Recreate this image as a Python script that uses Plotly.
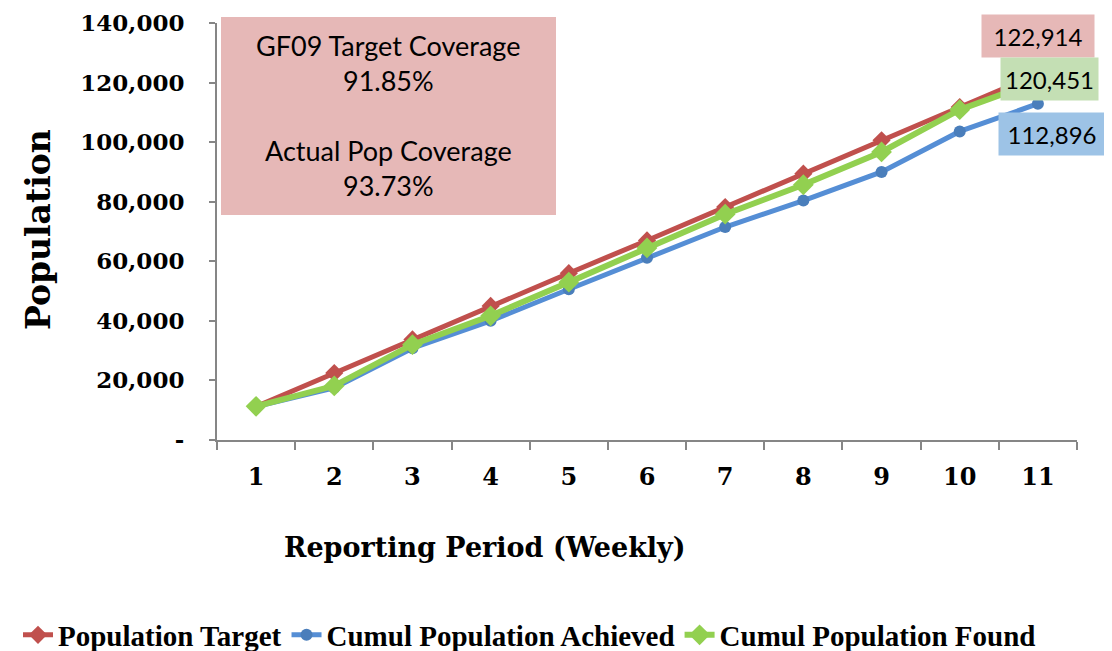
import plotly.graph_objects as go

# weekly reporting periods
weeks = ['1', '2', '3', '4', '5', '6', '7', '8', '9', '10', '11']

pop_target = [11250, 22500, 33750, 45000, 56000, 67000, 78200, 89400, 100600, 111800, 122914]
pop_achieved = [11200, 17500, 30800, 40000, 50600, 61200, 71500, 80400, 90000, 103600, 112896]
pop_found = [11300, 18200, 32000, 41700, 53000, 64500, 75800, 85700, 96700, 110900, 120451]

y_ticks = [0, 20000, 40000, 60000, 80000, 100000, 120000, 140000]
y_labels = ['-', '20,000', '40,000', '60,000', '80,000', '100,000', '120,000', '140,000']

box_lines = ['GF09 Target Coverage', '91.85%', 'Actual Pop Coverage', '93.73%']

red = '#C0504D'
blue_line = '#558ED5'
blue_mark = '#4A7EBB'
green = '#92D050'
serif = 'DejaVu Serif'

# page body has an 8px margin, so the figure is 8px smaller than the window
W, H = 1104, 643
L, T = 209, 15         # plot area left / top in figure pixels
PW, PH = 860, 417      # plot area size


def px(xp):  # window x pixel -> paper x
    return (xp - 8 - L) / PW


def py(yp):  # window y pixel -> paper y
    return (T + PH - (yp - 8)) / PH


fig = go.Figure()
fig.add_trace(go.Scatter(x=weeks, y=pop_target, name='Population Target', mode='lines+markers',
                         line=dict(color=red, width=5),
                         marker=dict(symbol='diamond', size=14, color=red)))
fig.add_trace(go.Scatter(x=weeks, y=pop_achieved, name='Cumul Population Achieved', mode='lines+markers',
                         line=dict(color=blue_line, width=5),
                         marker=dict(symbol='circle', size=12, color=blue_mark)))
fig.add_trace(go.Scatter(x=weeks, y=pop_found, name='Cumul Population Found', mode='lines+markers',
                         line=dict(color=green, width=6),
                         marker=dict(symbol='diamond', size=16, color=green)))

# coverage box
fig.add_shape(type='rect', xref='paper', yref='paper', x0=px(221), x1=px(556), y0=py(215), y1=py(17),
              fillcolor='#E6B8B7', line=dict(width=0), layer='below')
for txt, yp in zip(box_lines, [45, 80, 150, 185]):
    fig.add_annotation(x=px(388), xref='paper', y=py(yp), yref='paper', text=txt, showarrow=False,
                       xanchor='center', yanchor='middle',
                       font=dict(family='Lato', size=27, color='black'))

# end-point labels
last = len(weeks) - 1
labels = [(pop_target[-1], '#E6B8B7', 0, 38, 110),
          (pop_found[-1], '#C4DFB4', 12, 2, 95),
          (pop_achieved[-1], '#9DC3E6', 14, -30, 104)]
for val, bg, xs, ys, w in labels:
    fig.add_annotation(x=last, y=val, text=f'{val:,}', showarrow=False, xshift=xs, yshift=ys,
                       xanchor='center', yanchor='middle',
                       bgcolor=bg, width=w, height=40, align='center',
                       font=dict(family='Lato', size=24, color='black'))

# axis titles
fig.add_annotation(x=px(485), xref='paper', y=py(547), yref='paper',
                   text='<b>Reporting Period (Weekly)</b>', showarrow=False,
                   xanchor='center', yanchor='middle',
                   font=dict(family=serif, size=27, color='black'))
fig.add_annotation(x=px(38), xref='paper', y=py(230), yref='paper',
                   text='<b>Population</b>', textangle=-90, showarrow=False,
                   xanchor='center', yanchor='middle',
                   font=dict(family=serif, size=33, color='black'))

# outer border on the right
fig.add_shape(type='line', xref='paper', yref='paper', x0=px(1106), x1=px(1106),
              y0=py(660), y1=py(-5), line=dict(color='black', width=2))

fig.update_xaxes(type='category', tickson='boundaries', ticks='outside', ticklen=8,
                 tickcolor='#868686', tickwidth=2, showline=True, linecolor='#868686', linewidth=2,
                 showgrid=False, tickfont=dict(family=serif, size=24, color='black', weight='bold'),
                 ticklabelstandoff=14, range=[-0.5, 10.5], automargin=False)
fig.update_yaxes(range=[0, 140000], tickvals=y_ticks, ticktext=y_labels, ticks='outside', ticklen=6,
                 tickcolor='#868686', tickwidth=2, showline=True, linecolor='#868686', linewidth=2,
                 showgrid=False, zeroline=False, automargin=False, ticklabelstandoff=20,
                 ticklabeloverflow='allow',
                 tickfont=dict(family=serif, size=23, color='black', weight='bold'))

fig.update_layout(
    width=W, height=H,
    margin=dict(l=L, r=W - L - PW, t=T, b=H - T - PH, autoexpand=False),
    plot_bgcolor='white', paper_bgcolor='white',
    legend=dict(orientation='h', xref='paper', yref='paper', x=px(18), y=py(635),
                xanchor='left', yanchor='middle',
                font=dict(family='Liberation Serif', size=29, color='black', weight='bold'),
                itemwidth=30, traceorder='normal'),
)

fig.write_html("out.html")
